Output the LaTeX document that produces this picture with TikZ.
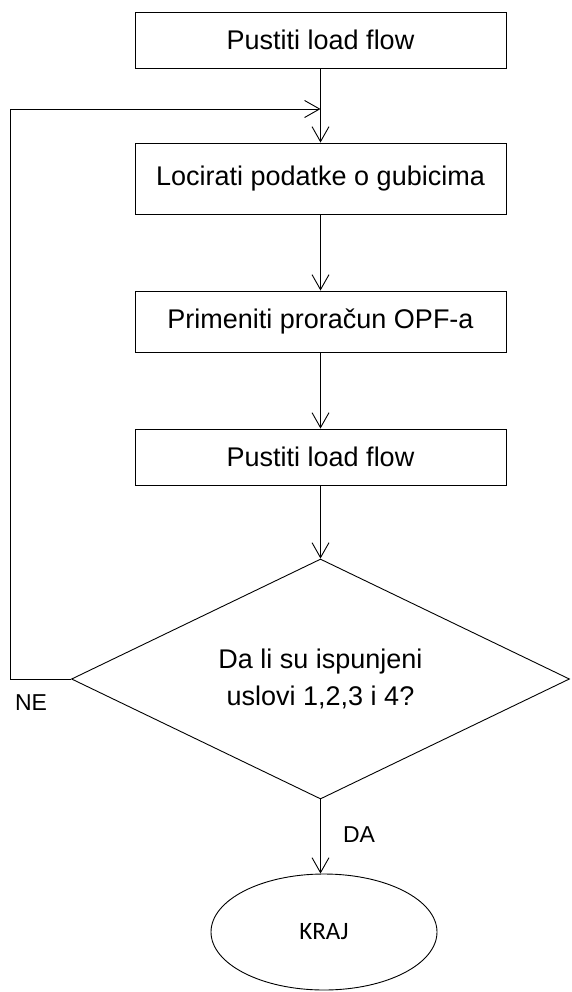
\documentclass[tikz,border=0pt]{standalone}
\usepackage{fontspec}
\setmainfont{Liberation Sans}
\newfontfamily\calib{Carlito}
\usetikzlibrary{arrows.meta,shapes.geometric}
\begin{document}
\begin{tikzpicture}[x=1pt,y=-1pt, line width=0.9pt,
  stepbox/.style={draw, minimum width=371pt, minimum height=#1, inner sep=0pt, font=\fontsize{27}{32}\selectfont},
  arr/.style={-{Straight Barb[length=15pt,width=17pt,line width=0.9pt]}},
  lbl/.style={font=\fontsize{23}{28}\selectfont, inner sep=0pt}]
\useasboundingbox (0,0) rectangle (571,992);
\node[stepbox=56pt] (b1) at (320.5,40) {Pustiti load flow};
\node[stepbox=71pt] (b2) at (320.5,178.5) {Locirati podatke o gubicima};
\node[stepbox=61pt] (b3) at (320.5,321.5) {Primeniti proračun OPF-a};
\node[stepbox=56pt] (b4) at (320.5,457) {Pustiti load flow};
\node[diamond, draw, minimum width=498pt, minimum height=240pt, aspect=2.075, inner sep=0pt, align=center, font=\fontsize{27}{37}\selectfont] (d) at (320.5,679) {Da li su ispunjeni\\uslovi 1,2,3 i 4?};
\node[ellipse, draw, minimum width=226pt, minimum height=116pt, inner sep=0pt, font=\calib\fontsize{25}{30}\selectfont] (k) at (324,932) {KRAJ};
\coordinate (lp) at (10,109);
\draw[arr] (b1.south) -- (b2.north);
\draw[arr] (b2.south) -- (b3.north);
\draw[arr] (b3.south) -- (b4.north);
\draw[arr] (b4.south) -- (d.north);
\draw[arr] (d.south) -- (d.south |- k.north);
\draw[arr] (d.west) -| (lp) -- (b1.south |- lp);
\node[lbl] (ne) at (31,703) {NE};
\node[lbl] (da) at (359,835) {DA};
\end{tikzpicture}
\end{document}
